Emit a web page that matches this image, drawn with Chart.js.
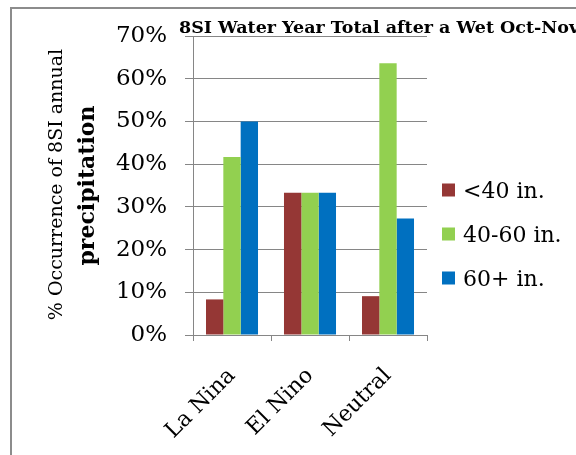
<!DOCTYPE html>
<html>
<head>
<meta charset="utf-8">
<script src="https://cdn.jsdelivr.net/npm/chart.js@4"></script>
<style>
  html, body { margin: 0; padding: 0; background: #ffffff; }
  #wrap { width: 576px; height: 455px; position: relative; }
</style>
</head>
<body>
<div id="wrap"><canvas id="chart" width="576" height="455"></canvas></div>
<script>
// ENSO phase categories
const categories = ['La Nina', 'El Nino', 'Neutral'];

// Share of years (%) falling in each annual precipitation class
const below40 = [8.33, 33.33, 9.09];
const from40to60 = [41.67, 33.33, 63.64];
const above60 = [50.0, 33.33, 27.27];

const seriesNames = ['<40 in.', '40-60 in.', '60+ in.'];
const seriesColors = ['#953735', '#92D050', '#0070C0'];

const yTicks = [0, 10, 20, 30, 40, 50, 60, 70];

const chartTitle = '8SI Water Year Total after a Wet Oct-Nov';
const yTitleLines = ['% Occurrence of 8SI annual', 'precipitation'];

const SERIF = "'DejaVu Serif', 'Liberation Serif', serif";
const GRID = '#868686';

// Frame, title, rotated axis title and legend
const decorations = {
  id: 'decorations',
  beforeDraw(chart) {
    const ctx = chart.ctx;
    ctx.save();
    ctx.strokeStyle = '#8c8c8c';
    ctx.lineWidth = 2;
    ctx.strokeRect(11, 8, 700, 600);
    ctx.restore();
  },
  afterDraw(chart) {
    const ctx = chart.ctx;
    const area = chart.chartArea;
    const midY = (area.top + area.bottom) / 2;
    ctx.save();
    ctx.fillStyle = '#000000';

    ctx.font = 'bold 17.5px ' + SERIF;
    ctx.textAlign = 'left';
    ctx.textBaseline = 'alphabetic';
    ctx.fillText(chartTitle, 179, 33);

    ctx.save();
    ctx.translate(57, midY - 1);
    ctx.rotate(-Math.PI / 2);
    ctx.textAlign = 'center';
    ctx.textBaseline = 'middle';
    ctx.font = '19px ' + SERIF;
    ctx.fillText(yTitleLines[0], 0, 0);
    ctx.restore();

    ctx.save();
    ctx.translate(88, midY);
    ctx.rotate(-Math.PI / 2);
    ctx.textAlign = 'center';
    ctx.textBaseline = 'middle';
    ctx.font = 'bold 22px ' + SERIF;
    ctx.fillText(yTitleLines[1], 0, 0);
    ctx.restore();

    ctx.font = '22px ' + SERIF;
    ctx.textAlign = 'left';
    ctx.textBaseline = 'alphabetic';
    chart.data.datasets.forEach((ds, i) => {
      const cy = 190 + i * 44;
      ctx.fillStyle = ds.backgroundColor;
      ctx.fillRect(442, cy - 6.5, 13, 13);
      ctx.fillStyle = '#000000';
      ctx.fillText(ds.label, 463, cy + 8);
    });
    ctx.restore();
  }
};

new Chart(document.getElementById('chart'), {
  type: 'bar',
  data: {
    labels: categories,
    datasets: [
      { label: seriesNames[0], data: below40, backgroundColor: seriesColors[0] },
      { label: seriesNames[1], data: from40to60, backgroundColor: seriesColors[1] },
      { label: seriesNames[2], data: above60, backgroundColor: seriesColors[2] }
    ]
  },
  options: {
    responsive: false,
    animation: false,
    devicePixelRatio: 1,
    layout: { padding: { left: 0, right: 149, top: 36, bottom: 0 } },
    datasets: {
      bar: { categoryPercentage: 0.667, barPercentage: 1.0, borderWidth: 0 }
    },
    plugins: {
      legend: { display: false },
      title: { display: false },
      tooltip: { enabled: false }
    },
    scales: {
      x: {
        offset: true,
        grid: { offset: true, drawOnChartArea: false, drawTicks: true, tickLength: 6, color: GRID },
        border: { color: GRID, width: 1 },
        ticks: {
          color: '#000000',
          font: { family: SERIF, size: 22 },
          minRotation: 45,
          maxRotation: 45,
          padding: 22
        },
        afterFit(scale) { scale.height = 120; }
      },
      y: {
        min: 0,
        max: 70,
        afterBuildTicks(scale) { scale.ticks = yTicks.map(v => ({ value: v })); },
        grid: { color: GRID, drawTicks: true, tickLength: 8 },
        border: { color: GRID, width: 1 },
        ticks: {
          color: '#000000',
          font: { family: SERIF, size: 23 },
          padding: 18,
          callback: v => v + '%'
        },
        afterFit(scale) { scale.width = 193; }
      }
    }
  },
  plugins: [decorations]
});
</script>
</body>
</html>
